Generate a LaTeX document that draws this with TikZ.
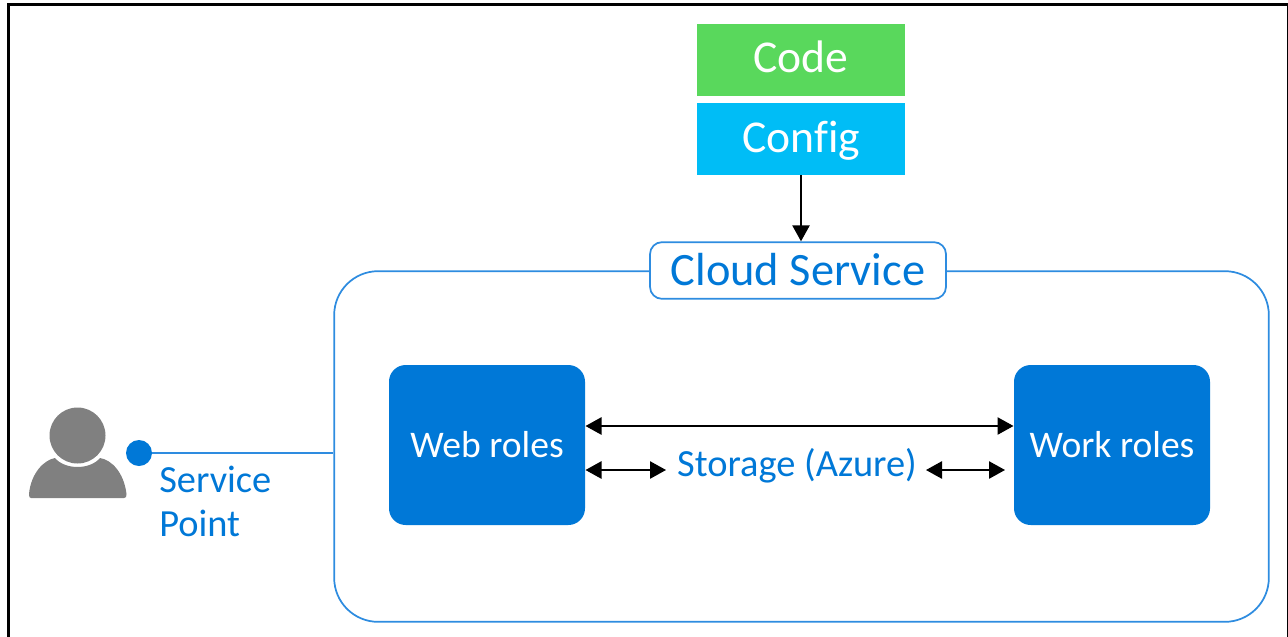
\documentclass[tikz,border=0pt]{standalone}
\usepackage{fontspec}
\setmainfont{Carlito}
\usetikzlibrary{arrows.meta}
\definecolor{azb}{HTML}{0078D7}
\definecolor{lb}{HTML}{2E8CE0}
\definecolor{cg}{HTML}{59D85C}
\definecolor{cc}{HTML}{00BDF6}
\definecolor{pg}{HTML}{808080}
\tikzset{
  roleBox/.style={fill=azb,rounded corners=12.5pt,minimum width=147pt,minimum height=120pt,inner sep=0pt,text=white,font=\fontsize{28.2}{32}\selectfont},
  stack/.style={minimum width=155.5pt,minimum height=54pt,inner sep=0pt,text=white,font=\fontsize{34.2}{38}\selectfont},
  lbl/.style={inner sep=0pt,text=azb,font=\fontsize{28.8}{33}\selectfont},
  link/.style={draw=black,line width=1.1pt,{Triangle[width=13pt,length=12pt]}-{Triangle[width=13pt,length=12pt]}}
}
\begin{document}
\begin{tikzpicture}[x=0.75pt,y=-0.75pt]
\useasboundingbox (0,0) rectangle (1288,636);
\fill[white] (0,0) rectangle (1288,636);
% frame
\draw[black,line width=2.4pt] (8.5,640) -- (8.5,4.5) -- (1288,4.5);
\draw[black,line width=0.9pt] (1287.5,4.5) -- (1287.5,640);
% service container
\node[draw=lb,line width=1.3pt,rounded corners=33pt,minimum width=701pt,minimum height=263pt,inner sep=0pt] (svc) at (801.5,446.5) {};
% stack
\node[stack,fill=cg,text height=24pt,text depth=6pt] (code) at (801,60) {Code};
\node[stack,fill=cc,text height=24pt,text depth=4.5pt] (config) at (801,139) {Conf\kern0pt ig};
% title
\node[draw=lb,fill=white,line width=1.3pt,rounded corners=9pt,minimum width=222pt,minimum height=42.5pt,inner sep=0pt,text=azb,font=\fontsize{34.8}{38}\selectfont,text height=26pt,text depth=4.2pt] (title) at (798,270.5) {Cloud Service};
\draw[black,line width=1.1pt,-{Triangle[width=13pt,length=12pt]}] (config.south) -- (title.north -| config.south);
% roles
\node[roleBox] (web) at (487,445) {Web roles};
\node[roleBox] (work) at (1112,445) {Work roles};
\coordinate (wa) at (585.5,426);
\coordinate (wb) at (1013.5,426);
\draw[link] (wa) -- (wb);
\node[lbl] (storage) at (797,466) {Storage (Azure)};
\coordinate (sa) at (585.5,470);
\coordinate (sb) at (666,470);
\coordinate (sc) at (926,470);
\coordinate (sd) at (1005,470);
\draw[link] (sa) -- (sb);
\draw[link] (sc) -- (sd);
% service point
\node[circle,fill=azb,minimum size=19.5pt,inner sep=0pt] (pt) at (139,453) {};
\draw[lb,line width=1.3pt] (pt.east) -- (svc.west |- pt.east);
\node[lbl,anchor=west,align=left] (sp) at (159,501) {Service\\Point};
% person
\fill[pg] (77.5,435.5) circle (28);
\fill[pg] (29,494) .. controls (31,473) and (44,460) .. (55,458) .. controls (65,470) and (90,470) .. (100,458) .. controls (112,460) and (124,473) .. (126.5,494) .. controls (126.5,497) and (126,498) .. (124,498) -- (31,498) .. controls (29.5,498) and (29,497) .. (29,494) -- cycle;
\end{tikzpicture}
\end{document}
